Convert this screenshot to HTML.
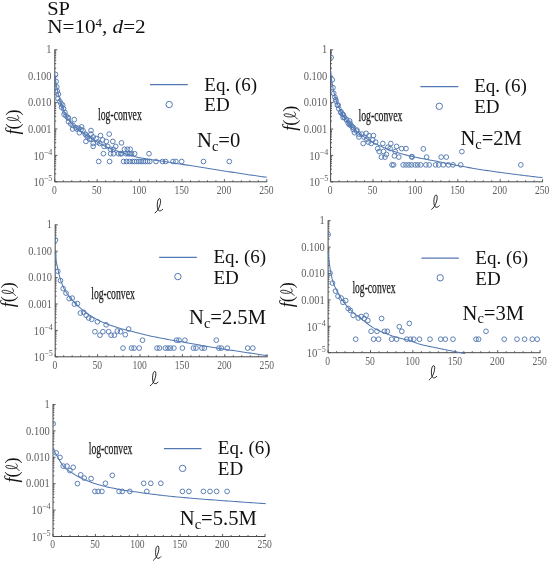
<!DOCTYPE html>
<html><head><meta charset="utf-8"><title>SP f(l) distributions</title>
<style>
html,body{margin:0;padding:0;background:#fff;}
body{width:551px;height:561px;overflow:hidden;font-family:"Liberation Serif",serif;}
svg{display:block;will-change:transform;}
text{font-family:"Liberation Serif",serif;}
.tk{font-size:13px;fill:#5e5e5e;}
.tks{font-size:9px;fill:#5e5e5e;}
.lg{font-size:19px;fill:#111;}
.nc{font-size:20.6px;fill:#111;}
.lc{font-size:16.5px;fill:#1a1a1a;stroke:#1a1a1a;stroke-width:0.25px;}
.yl{font-size:18px;fill:#111;}
.tt{font-size:19.6px;fill:#111;}
</style></head><body>
<svg width="551" height="561" viewBox="0 0 551 561">
<rect width="551" height="561" fill="#fff"/>
<text x="47.2" y="15.2" class="tt" textLength="22.8" lengthAdjust="spacingAndGlyphs">SP</text>
<text x="47.2" y="33.2" class="tt" textLength="98.5" lengthAdjust="spacingAndGlyphs">N=10<tspan dy="-6" font-size="12">4</tspan><tspan dy="6">, </tspan><tspan font-style="italic">d</tspan>=2</text>
<path d="M54.80,49.40 V181.80 H267.10" fill="none" stroke="#484848" stroke-width="1.0"/>
<path d="M54.80,181.80 h2.6 M54.80,173.85 h1.4 M54.80,169.20 h1.4 M54.80,165.91 h1.4 M54.80,163.35 h1.4 M54.80,161.26 h1.4 M54.80,159.49 h1.4 M54.80,157.96 h1.4 M54.80,156.61 h1.4 M54.80,155.40 h2.6 M54.80,147.45 h1.4 M54.80,142.80 h1.4 M54.80,139.51 h1.4 M54.80,136.95 h1.4 M54.80,134.86 h1.4 M54.80,133.09 h1.4 M54.80,131.56 h1.4 M54.80,130.21 h1.4 M54.80,129.00 h2.6 M54.80,121.05 h1.4 M54.80,116.40 h1.4 M54.80,113.11 h1.4 M54.80,110.55 h1.4 M54.80,108.46 h1.4 M54.80,106.69 h1.4 M54.80,105.16 h1.4 M54.80,103.81 h1.4 M54.80,102.60 h2.6 M54.80,94.65 h1.4 M54.80,90.00 h1.4 M54.80,86.71 h1.4 M54.80,84.15 h1.4 M54.80,82.06 h1.4 M54.80,80.29 h1.4 M54.80,78.76 h1.4 M54.80,77.41 h1.4 M54.80,76.20 h2.6 M54.80,68.25 h1.4 M54.80,63.60 h1.4 M54.80,60.31 h1.4 M54.80,57.75 h1.4 M54.80,55.66 h1.4 M54.80,53.89 h1.4 M54.80,52.36 h1.4 M54.80,51.01 h1.4 M54.80,49.80 h2.6 M54.80,181.80 v-2.6 M63.28,181.80 v-1.5 M71.76,181.80 v-1.5 M80.24,181.80 v-1.5 M88.72,181.80 v-1.5 M97.20,181.80 v-2.6 M105.68,181.80 v-1.5 M114.16,181.80 v-1.5 M122.64,181.80 v-1.5 M131.12,181.80 v-1.5 M139.60,181.80 v-2.6 M148.08,181.80 v-1.5 M156.56,181.80 v-1.5 M165.04,181.80 v-1.5 M173.52,181.80 v-1.5 M182.00,181.80 v-2.6 M190.48,181.80 v-1.5 M198.96,181.80 v-1.5 M207.44,181.80 v-1.5 M215.92,181.80 v-1.5 M224.40,181.80 v-2.6 M232.88,181.80 v-1.5 M241.36,181.80 v-1.5 M249.84,181.80 v-1.5 M258.32,181.80 v-1.5 M266.80,181.80 v-2.6" fill="none" stroke="#484848" stroke-width="0.9"/>
<text x="51.50" y="53.40" text-anchor="end" class="tk" textLength="5.2" lengthAdjust="spacingAndGlyphs">1</text>
<text x="51.50" y="79.80" text-anchor="end" class="tk" textLength="23.6" lengthAdjust="spacingAndGlyphs">0.100</text>
<text x="51.50" y="106.20" text-anchor="end" class="tk" textLength="23.6" lengthAdjust="spacingAndGlyphs">0.010</text>
<text x="51.50" y="132.60" text-anchor="end" class="tk" textLength="23.6" lengthAdjust="spacingAndGlyphs">0.001</text>
<text x="44.20" y="159.70" text-anchor="end" class="tk" textLength="10.8" lengthAdjust="spacingAndGlyphs">10</text>
<text x="52.40" y="154.70" text-anchor="end" class="tks" textLength="8.6" lengthAdjust="spacingAndGlyphs">−4</text>
<text x="44.20" y="186.10" text-anchor="end" class="tk" textLength="10.8" lengthAdjust="spacingAndGlyphs">10</text>
<text x="52.40" y="181.10" text-anchor="end" class="tks" textLength="8.6" lengthAdjust="spacingAndGlyphs">−5</text>
<text x="54.40" y="193.60" text-anchor="middle" class="tk" textLength="4.8" lengthAdjust="spacingAndGlyphs">0</text>
<text x="96.80" y="193.60" text-anchor="middle" class="tk" textLength="9.6" lengthAdjust="spacingAndGlyphs">50</text>
<text x="139.20" y="193.60" text-anchor="middle" class="tk" textLength="14.4" lengthAdjust="spacingAndGlyphs">100</text>
<text x="181.60" y="193.60" text-anchor="middle" class="tk" textLength="14.4" lengthAdjust="spacingAndGlyphs">150</text>
<text x="224.00" y="193.60" text-anchor="middle" class="tk" textLength="14.4" lengthAdjust="spacingAndGlyphs">200</text>
<text x="266.40" y="193.60" text-anchor="middle" class="tk" textLength="14.4" lengthAdjust="spacingAndGlyphs">250</text>
<path transform="translate(154.90,198.30) scale(1.0)" d="M0.2,14.6 C2.0,13.2 3.4,11.2 4.4,8.6 C5.6,5.4 6.2,2.2 5.2,0.6 C4.2,-0.6 2.8,1.6 2.5,4.6 C2.2,7.6 2.4,10.6 3.6,12.0 C4.8,13.2 6.6,12.6 7.8,11.0" fill="none" stroke="#111" stroke-width="0.9" stroke-linecap="round"/>
<g transform="translate(19.40,134.40) rotate(-90)"><text x="0" y="0" class="yl"><tspan font-style="italic">f</tspan>(</text><path transform="translate(11.60,-12.60) scale(0.95)" d="M0.2,14.6 C2.0,13.2 3.4,11.2 4.4,8.6 C5.6,5.4 6.2,2.2 5.2,0.6 C4.2,-0.6 2.8,1.6 2.5,4.6 C2.2,7.6 2.4,10.6 3.6,12.0 C4.8,13.2 6.6,12.6 7.8,11.0" fill="none" stroke="#111" stroke-width="0.9" stroke-linecap="round"/><text x="19.0" y="0" class="yl">)</text></g>
<path d="M54.80,76.00 L55.14,78.17 L55.47,80.25 L55.81,82.23 L56.15,84.11 L56.49,85.92 L56.82,87.68 L57.16,89.34 L57.50,90.89 L57.83,92.38 L58.17,93.80 L58.51,95.16 L58.84,96.44 L59.18,97.64 L59.52,98.78 L59.86,99.88 L60.19,100.93 L60.53,101.95 L60.87,102.93 L61.20,103.89 L61.54,104.84 L61.88,105.77 L62.22,106.70 L62.55,107.61 L62.89,108.51 L63.23,109.38 L63.56,110.24 L63.90,111.06 L64.24,111.85 L64.58,112.61 L64.91,113.32 L65.25,114.00 L65.59,114.65 L65.92,115.29 L66.26,115.91 L66.60,116.52 L66.93,117.10 L67.27,117.66 L67.61,118.21 L67.95,118.73 L68.28,119.23 L68.62,119.72 L68.96,120.18 L69.29,120.62 L69.63,121.05 L69.97,121.46 L70.31,121.87 L70.64,122.26 L70.98,122.64 L71.32,123.01 L71.65,123.38 L71.99,123.73 L72.33,124.08 L72.67,124.42 L73.00,124.75 L73.34,125.08 L73.68,125.40 L74.01,125.71 L74.35,126.02 L74.69,126.33 L75.02,126.63 L75.36,126.93 L75.70,127.23 L76.04,127.53 L76.37,127.83 L76.71,128.12 L77.05,128.40 L77.38,128.69 L77.72,128.96 L78.06,129.24 L78.40,129.51 L78.73,129.78 L79.07,130.04 L79.41,130.31 L79.74,130.56 L80.08,130.82 L80.42,131.07 L80.76,131.33 L81.09,131.58 L81.43,131.82 L81.77,132.07 L82.10,132.31 L82.44,132.55 L82.78,132.79 L83.11,133.03 L83.45,133.27 L83.79,133.50 L84.13,133.74 L84.46,133.97 L84.80,134.21 L86.33,135.25 L87.86,136.27 L89.39,137.27 L90.92,138.24 L92.45,139.19 L93.98,140.11 L95.51,141.02 L97.04,141.91 L98.56,142.78 L100.09,143.63 L101.62,144.47 L103.15,145.27 L104.68,146.02 L106.21,146.73 L107.74,147.41 L109.27,148.06 L110.80,148.69 L112.33,149.29 L113.86,149.88 L115.39,150.44 L116.92,150.99 L118.45,151.52 L119.98,152.03 L121.51,152.55 L123.04,153.06 L124.56,153.56 L126.09,154.05 L127.62,154.54 L129.15,155.00 L130.68,155.46 L132.21,155.89 L133.74,156.31 L135.27,156.71 L136.80,157.08 L138.33,157.43 L139.86,157.75 L141.39,158.05 L142.92,158.34 L144.45,158.61 L145.98,158.87 L147.51,159.11 L149.04,159.35 L150.56,159.58 L152.09,159.80 L153.62,160.02 L155.15,160.23 L156.68,160.44 L158.21,160.65 L159.74,160.87 L161.27,161.08 L162.80,161.31 L164.33,161.54 L165.86,161.77 L167.39,162.01 L168.92,162.25 L170.45,162.49 L171.98,162.73 L173.51,162.97 L175.04,163.21 L176.56,163.45 L178.09,163.69 L179.62,163.93 L181.15,164.17 L182.68,164.41 L184.21,164.64 L185.74,164.87 L187.27,165.11 L188.80,165.34 L190.33,165.57 L191.86,165.80 L193.39,166.03 L194.92,166.26 L196.45,166.49 L197.98,166.73 L199.51,166.96 L201.04,167.20 L202.56,167.43 L204.09,167.67 L205.62,167.92 L207.15,168.16 L208.68,168.41 L210.21,168.66 L211.74,168.92 L213.27,169.17 L214.80,169.43 L216.33,169.68 L217.86,169.94 L219.39,170.19 L220.92,170.44 L222.45,170.69 L223.98,170.93 L225.51,171.17 L227.04,171.41 L228.56,171.65 L230.09,171.89 L231.62,172.13 L233.15,172.36 L234.68,172.60 L236.21,172.83 L237.74,173.07 L239.27,173.30 L240.80,173.53 L242.33,173.76 L243.86,173.99 L245.39,174.22 L246.92,174.45 L248.45,174.67 L249.98,174.90 L251.51,175.12 L253.04,175.35 L254.56,175.57 L256.09,175.79 L257.62,176.01 L259.15,176.23 L260.68,176.44 L262.21,176.66 L263.74,176.88 L265.27,177.09 L266.80,177.30" fill="none" stroke="#5379B2" stroke-width="1.05" stroke-linejoin="round"/>
<clipPath id="cp729"><rect x="54.60" y="41.80" width="218.00" height="141.00"/></clipPath>
<g fill="none" stroke="#5379B2" stroke-width="0.95" clip-path="url(#cp729)"><circle cx="55.5" cy="74.5" r="2.35"/><circle cx="56.1" cy="81.5" r="2.35"/><circle cx="56.8" cy="86.9" r="2.35"/><circle cx="57.3" cy="91.2" r="2.35"/><circle cx="58.4" cy="94.1" r="2.35"/><circle cx="58.0" cy="98.5" r="2.35"/><circle cx="59.9" cy="101.4" r="2.35"/><circle cx="60.9" cy="103.5" r="2.35"/><circle cx="61.6" cy="107.2" r="2.35"/><circle cx="62.7" cy="105.1" r="2.35"/><circle cx="63.5" cy="108.7" r="2.35"/><circle cx="64.9" cy="112.3" r="2.35"/><circle cx="66.1" cy="116.0" r="2.35"/><circle cx="67.8" cy="117.4" r="2.35"/><circle cx="68.5" cy="121.8" r="2.35"/><circle cx="70.7" cy="123.9" r="2.35"/><circle cx="74.3" cy="119.6" r="2.35"/><circle cx="72.9" cy="125.4" r="2.35"/><circle cx="75.8" cy="127.6" r="2.35"/><circle cx="78.7" cy="128.3" r="2.35"/><circle cx="81.6" cy="126.9" r="2.35"/><circle cx="79.4" cy="132.7" r="2.35"/><circle cx="83.0" cy="130.5" r="2.35"/><circle cx="85.2" cy="134.1" r="2.35"/><circle cx="87.4" cy="137.0" r="2.35"/><circle cx="91.0" cy="130.5" r="2.35"/><circle cx="91.0" cy="134.1" r="2.35"/><circle cx="85.9" cy="141.4" r="2.35"/><circle cx="89.6" cy="139.2" r="2.35"/><circle cx="93.2" cy="137.0" r="2.35"/><circle cx="96.1" cy="138.5" r="2.35"/><circle cx="100.5" cy="135.6" r="2.35"/><circle cx="93.2" cy="143.5" r="2.35"/><circle cx="93.2" cy="146.4" r="2.35"/><circle cx="97.6" cy="142.1" r="2.35"/><circle cx="99.7" cy="143.5" r="2.35"/><circle cx="102.6" cy="139.9" r="2.35"/><circle cx="106.3" cy="141.4" r="2.35"/><circle cx="109.2" cy="134.1" r="2.35"/><circle cx="104.1" cy="146.4" r="2.35"/><circle cx="107.7" cy="146.4" r="2.35"/><circle cx="112.8" cy="141.4" r="2.35"/><circle cx="110.6" cy="149.3" r="2.35"/><circle cx="113.5" cy="149.3" r="2.35"/><circle cx="115.7" cy="146.4" r="2.35"/><circle cx="121.5" cy="142.9" r="2.35"/><circle cx="103.4" cy="153.7" r="2.35"/><circle cx="110.6" cy="153.7" r="2.35"/><circle cx="113.5" cy="153.7" r="2.35"/><circle cx="118.6" cy="153.7" r="2.35"/><circle cx="121.5" cy="153.7" r="2.35"/><circle cx="124.4" cy="149.3" r="2.35"/><circle cx="127.3" cy="149.3" r="2.35"/><circle cx="130.2" cy="149.3" r="2.35"/><circle cx="125.9" cy="153.7" r="2.35"/><circle cx="129.5" cy="153.7" r="2.35"/><circle cx="134.6" cy="153.7" r="2.35"/><circle cx="120.7" cy="153.7" r="2.35"/><circle cx="128.0" cy="153.7" r="2.35"/><circle cx="131.5" cy="153.7" r="2.35"/><circle cx="149.0" cy="153.7" r="2.35"/><circle cx="64.1" cy="114.4" r="2.35"/><circle cx="68.4" cy="118.1" r="2.35"/><circle cx="72.6" cy="129.0" r="2.35"/><circle cx="76.8" cy="129.0" r="2.35"/><circle cx="81.1" cy="129.7" r="2.35"/><circle cx="86.2" cy="135.1" r="2.35"/><circle cx="91.3" cy="139.2" r="2.35"/><circle cx="98.7" cy="161.5" r="2.35"/><circle cx="109.6" cy="161.5" r="2.35"/><circle cx="123.6" cy="161.5" r="2.35"/><circle cx="126.5" cy="161.5" r="2.35"/><circle cx="129.4" cy="161.5" r="2.35"/><circle cx="132.3" cy="161.5" r="2.35"/><circle cx="134.5" cy="161.5" r="2.35"/><circle cx="136.7" cy="161.5" r="2.35"/><circle cx="138.9" cy="161.5" r="2.35"/><circle cx="141.0" cy="161.5" r="2.35"/><circle cx="143.2" cy="161.5" r="2.35"/><circle cx="145.4" cy="161.5" r="2.35"/><circle cx="147.6" cy="161.5" r="2.35"/><circle cx="149.8" cy="161.5" r="2.35"/><circle cx="156.0" cy="161.5" r="2.35"/><circle cx="162.5" cy="161.5" r="2.35"/><circle cx="165.7" cy="161.5" r="2.35"/><circle cx="173.0" cy="161.5" r="2.35"/><circle cx="175.9" cy="161.5" r="2.35"/><circle cx="181.7" cy="161.5" r="2.35"/><circle cx="203.5" cy="161.5" r="2.35"/><circle cx="229.3" cy="161.5" r="2.35"/></g>
<path d="M150.0,84.6 H187.8" stroke="#5379B2" stroke-width="1.25"/>
<circle cx="169.2" cy="104.5" r="3.2" fill="none" stroke="#5379B2" stroke-width="1"/>
<text x="204.3" y="91.0" class="lg">Eq. (6)</text>
<text x="204.3" y="110.8" class="lg">ED</text>
<text x="197.0" y="146.9" class="nc">N<tspan dy="3.8" font-size="14.5">c</tspan><tspan dy="-3.8">=0</tspan></text>
<text x="98.0" y="120.4" class="lc" textLength="43.8" lengthAdjust="spacingAndGlyphs">log-convex</text>
<path d="M330.60,49.40 V181.80 H542.90" fill="none" stroke="#484848" stroke-width="1.0"/>
<path d="M330.60,181.80 h2.6 M330.60,173.85 h1.4 M330.60,169.20 h1.4 M330.60,165.91 h1.4 M330.60,163.35 h1.4 M330.60,161.26 h1.4 M330.60,159.49 h1.4 M330.60,157.96 h1.4 M330.60,156.61 h1.4 M330.60,155.40 h2.6 M330.60,147.45 h1.4 M330.60,142.80 h1.4 M330.60,139.51 h1.4 M330.60,136.95 h1.4 M330.60,134.86 h1.4 M330.60,133.09 h1.4 M330.60,131.56 h1.4 M330.60,130.21 h1.4 M330.60,129.00 h2.6 M330.60,121.05 h1.4 M330.60,116.40 h1.4 M330.60,113.11 h1.4 M330.60,110.55 h1.4 M330.60,108.46 h1.4 M330.60,106.69 h1.4 M330.60,105.16 h1.4 M330.60,103.81 h1.4 M330.60,102.60 h2.6 M330.60,94.65 h1.4 M330.60,90.00 h1.4 M330.60,86.71 h1.4 M330.60,84.15 h1.4 M330.60,82.06 h1.4 M330.60,80.29 h1.4 M330.60,78.76 h1.4 M330.60,77.41 h1.4 M330.60,76.20 h2.6 M330.60,68.25 h1.4 M330.60,63.60 h1.4 M330.60,60.31 h1.4 M330.60,57.75 h1.4 M330.60,55.66 h1.4 M330.60,53.89 h1.4 M330.60,52.36 h1.4 M330.60,51.01 h1.4 M330.60,49.80 h2.6 M330.60,181.80 v-2.6 M339.08,181.80 v-1.5 M347.56,181.80 v-1.5 M356.04,181.80 v-1.5 M364.52,181.80 v-1.5 M373.00,181.80 v-2.6 M381.48,181.80 v-1.5 M389.96,181.80 v-1.5 M398.44,181.80 v-1.5 M406.92,181.80 v-1.5 M415.40,181.80 v-2.6 M423.88,181.80 v-1.5 M432.36,181.80 v-1.5 M440.84,181.80 v-1.5 M449.32,181.80 v-1.5 M457.80,181.80 v-2.6 M466.28,181.80 v-1.5 M474.76,181.80 v-1.5 M483.24,181.80 v-1.5 M491.72,181.80 v-1.5 M500.20,181.80 v-2.6 M508.68,181.80 v-1.5 M517.16,181.80 v-1.5 M525.64,181.80 v-1.5 M534.12,181.80 v-1.5 M542.60,181.80 v-2.6" fill="none" stroke="#484848" stroke-width="0.9"/>
<text x="327.30" y="53.40" text-anchor="end" class="tk" textLength="5.2" lengthAdjust="spacingAndGlyphs">1</text>
<text x="327.30" y="79.80" text-anchor="end" class="tk" textLength="23.6" lengthAdjust="spacingAndGlyphs">0.100</text>
<text x="327.30" y="106.20" text-anchor="end" class="tk" textLength="23.6" lengthAdjust="spacingAndGlyphs">0.010</text>
<text x="327.30" y="132.60" text-anchor="end" class="tk" textLength="23.6" lengthAdjust="spacingAndGlyphs">0.001</text>
<text x="320.00" y="159.70" text-anchor="end" class="tk" textLength="10.8" lengthAdjust="spacingAndGlyphs">10</text>
<text x="328.20" y="154.70" text-anchor="end" class="tks" textLength="8.6" lengthAdjust="spacingAndGlyphs">−4</text>
<text x="320.00" y="186.10" text-anchor="end" class="tk" textLength="10.8" lengthAdjust="spacingAndGlyphs">10</text>
<text x="328.20" y="181.10" text-anchor="end" class="tks" textLength="8.6" lengthAdjust="spacingAndGlyphs">−5</text>
<text x="330.20" y="193.60" text-anchor="middle" class="tk" textLength="4.8" lengthAdjust="spacingAndGlyphs">0</text>
<text x="372.60" y="193.60" text-anchor="middle" class="tk" textLength="9.6" lengthAdjust="spacingAndGlyphs">50</text>
<text x="415.00" y="193.60" text-anchor="middle" class="tk" textLength="14.4" lengthAdjust="spacingAndGlyphs">100</text>
<text x="457.40" y="193.60" text-anchor="middle" class="tk" textLength="14.4" lengthAdjust="spacingAndGlyphs">150</text>
<text x="499.80" y="193.60" text-anchor="middle" class="tk" textLength="14.4" lengthAdjust="spacingAndGlyphs">200</text>
<text x="542.20" y="193.60" text-anchor="middle" class="tk" textLength="14.4" lengthAdjust="spacingAndGlyphs">250</text>
<path transform="translate(431.50,194.70) scale(1.0)" d="M0.2,14.6 C2.0,13.2 3.4,11.2 4.4,8.6 C5.6,5.4 6.2,2.2 5.2,0.6 C4.2,-0.6 2.8,1.6 2.5,4.6 C2.2,7.6 2.4,10.6 3.6,12.0 C4.8,13.2 6.6,12.6 7.8,11.0" fill="none" stroke="#111" stroke-width="0.9" stroke-linecap="round"/>
<g transform="translate(296.20,130.80) rotate(-90)"><text x="0" y="0" class="yl"><tspan font-style="italic">f</tspan>(</text><path transform="translate(11.60,-12.60) scale(0.95)" d="M0.2,14.6 C2.0,13.2 3.4,11.2 4.4,8.6 C5.6,5.4 6.2,2.2 5.2,0.6 C4.2,-0.6 2.8,1.6 2.5,4.6 C2.2,7.6 2.4,10.6 3.6,12.0 C4.8,13.2 6.6,12.6 7.8,11.0" fill="none" stroke="#111" stroke-width="0.9" stroke-linecap="round"/><text x="19.0" y="0" class="yl">)</text></g>
<path d="M330.60,70.00 L330.94,73.71 L331.27,76.94 L331.61,79.60 L331.95,81.85 L332.29,83.91 L332.62,85.91 L332.96,87.78 L333.30,89.46 L333.63,91.03 L333.97,92.50 L334.31,93.90 L334.64,95.21 L334.98,96.44 L335.32,97.60 L335.66,98.70 L335.99,99.75 L336.33,100.76 L336.67,101.73 L337.00,102.67 L337.34,103.58 L337.68,104.47 L338.02,105.34 L338.35,106.19 L338.69,107.01 L339.03,107.81 L339.36,108.59 L339.70,109.34 L340.04,110.06 L340.38,110.75 L340.71,111.41 L341.05,112.06 L341.39,112.69 L341.72,113.30 L342.06,113.90 L342.40,114.48 L342.73,115.04 L343.07,115.60 L343.41,116.14 L343.75,116.66 L344.08,117.17 L344.42,117.67 L344.76,118.16 L345.09,118.63 L345.43,119.09 L345.77,119.54 L346.11,119.98 L346.44,120.41 L346.78,120.83 L347.12,121.23 L347.45,121.64 L347.79,122.03 L348.13,122.42 L348.47,122.80 L348.80,123.18 L349.14,123.55 L349.48,123.92 L349.81,124.30 L350.15,124.66 L350.49,125.03 L350.82,125.40 L351.16,125.76 L351.50,126.12 L351.84,126.48 L352.17,126.84 L352.51,127.19 L352.85,127.54 L353.18,127.89 L353.52,128.23 L353.86,128.57 L354.20,128.90 L354.53,129.23 L354.87,129.56 L355.21,129.88 L355.54,130.19 L355.88,130.51 L356.22,130.81 L356.56,131.11 L356.89,131.41 L357.23,131.70 L357.57,131.98 L357.90,132.26 L358.24,132.54 L358.58,132.81 L358.91,133.09 L359.25,133.35 L359.59,133.62 L359.93,133.88 L360.26,134.14 L360.60,134.39 L362.13,135.51 L363.66,136.59 L365.19,137.63 L366.72,138.63 L368.25,139.61 L369.78,140.56 L371.31,141.47 L372.84,142.34 L374.36,143.17 L375.89,143.95 L377.42,144.70 L378.95,145.41 L380.48,146.09 L382.01,146.75 L383.54,147.40 L385.07,148.03 L386.60,148.66 L388.13,149.27 L389.66,149.88 L391.19,150.46 L392.72,151.02 L394.25,151.55 L395.78,152.05 L397.31,152.53 L398.84,153.00 L400.36,153.46 L401.89,153.90 L403.42,154.32 L404.95,154.74 L406.48,155.13 L408.01,155.52 L409.54,155.89 L411.07,156.25 L412.60,156.60 L414.13,156.93 L415.66,157.25 L417.19,157.57 L418.72,157.88 L420.25,158.18 L421.78,158.47 L423.31,158.76 L424.84,159.05 L426.36,159.34 L427.89,159.62 L429.42,159.91 L430.95,160.20 L432.48,160.49 L434.01,160.79 L435.54,161.09 L437.07,161.39 L438.60,161.70 L440.13,162.01 L441.66,162.33 L443.19,162.64 L444.72,162.95 L446.25,163.26 L447.78,163.58 L449.31,163.89 L450.84,164.20 L452.36,164.50 L453.89,164.81 L455.42,165.11 L456.95,165.40 L458.48,165.70 L460.01,165.98 L461.54,166.26 L463.07,166.54 L464.60,166.81 L466.13,167.09 L467.66,167.36 L469.19,167.63 L470.72,167.89 L472.25,168.15 L473.78,168.41 L475.31,168.67 L476.84,168.92 L478.36,169.18 L479.89,169.42 L481.42,169.67 L482.95,169.91 L484.48,170.15 L486.01,170.38 L487.54,170.61 L489.07,170.84 L490.60,171.06 L492.13,171.28 L493.66,171.50 L495.19,171.71 L496.72,171.93 L498.25,172.13 L499.78,172.34 L501.31,172.55 L502.84,172.75 L504.36,172.95 L505.89,173.15 L507.42,173.35 L508.95,173.55 L510.48,173.75 L512.01,173.95 L513.54,174.15 L515.07,174.34 L516.60,174.54 L518.13,174.73 L519.66,174.93 L521.19,175.12 L522.72,175.31 L524.25,175.50 L525.78,175.69 L527.31,175.88 L528.84,176.07 L530.36,176.25 L531.89,176.44 L533.42,176.62 L534.95,176.81 L536.48,176.99 L538.01,177.17 L539.54,177.35 L541.07,177.52 L542.60,177.70" fill="none" stroke="#5379B2" stroke-width="1.05" stroke-linejoin="round"/>
<clipPath id="cp3487"><rect x="330.40" y="41.80" width="218.00" height="141.00"/></clipPath>
<g fill="none" stroke="#5379B2" stroke-width="0.95" clip-path="url(#cp3487)"><circle cx="331.1" cy="57.5" r="2.35"/><circle cx="332.3" cy="79.8" r="2.35"/><circle cx="333.0" cy="87.7" r="2.35"/><circle cx="333.7" cy="93.3" r="2.35"/><circle cx="334.9" cy="97.2" r="2.35"/><circle cx="335.9" cy="101.1" r="2.35"/><circle cx="337.3" cy="105.2" r="2.35"/><circle cx="338.8" cy="108.8" r="2.35"/><circle cx="341.0" cy="111.7" r="2.35"/><circle cx="342.4" cy="114.2" r="2.35"/><circle cx="343.1" cy="117.5" r="2.35"/><circle cx="344.4" cy="117.4" r="2.35"/><circle cx="346.3" cy="119.2" r="2.35"/><circle cx="349.6" cy="120.9" r="2.35"/><circle cx="348.2" cy="123.3" r="2.35"/><circle cx="349.4" cy="124.7" r="2.35"/><circle cx="351.1" cy="125.5" r="2.35"/><circle cx="352.3" cy="126.9" r="2.35"/><circle cx="353.2" cy="129.5" r="2.35"/><circle cx="354.5" cy="132.7" r="2.35"/><circle cx="356.7" cy="131.2" r="2.35"/><circle cx="358.9" cy="134.1" r="2.35"/><circle cx="358.9" cy="137.0" r="2.35"/><circle cx="361.8" cy="134.1" r="2.35"/><circle cx="363.2" cy="143.5" r="2.35"/><circle cx="363.9" cy="137.0" r="2.35"/><circle cx="366.1" cy="133.4" r="2.35"/><circle cx="366.9" cy="139.2" r="2.35"/><circle cx="369.0" cy="135.6" r="2.35"/><circle cx="368.3" cy="142.1" r="2.35"/><circle cx="371.2" cy="143.5" r="2.35"/><circle cx="373.4" cy="135.6" r="2.35"/><circle cx="372.7" cy="139.9" r="2.35"/><circle cx="375.6" cy="142.1" r="2.35"/><circle cx="377.7" cy="148.6" r="2.35"/><circle cx="379.2" cy="151.5" r="2.35"/><circle cx="382.8" cy="143.5" r="2.35"/><circle cx="383.5" cy="151.5" r="2.35"/><circle cx="381.4" cy="157.1" r="2.35"/><circle cx="385.0" cy="157.1" r="2.35"/><circle cx="386.4" cy="154.4" r="2.35"/><circle cx="387.9" cy="147.2" r="2.35"/><circle cx="390.8" cy="143.5" r="2.35"/><circle cx="390.1" cy="148.6" r="2.35"/><circle cx="394.4" cy="155.9" r="2.35"/><circle cx="395.2" cy="151.5" r="2.35"/><circle cx="396.6" cy="146.4" r="2.35"/><circle cx="398.8" cy="157.1" r="2.35"/><circle cx="401.7" cy="148.6" r="2.35"/><circle cx="406.0" cy="148.6" r="2.35"/><circle cx="411.8" cy="156.6" r="2.35"/><circle cx="412.0" cy="157.1" r="2.35"/><circle cx="426.6" cy="157.1" r="2.35"/><circle cx="441.2" cy="157.1" r="2.35"/><circle cx="446.3" cy="157.1" r="2.35"/><circle cx="461.9" cy="151.6" r="2.35"/><circle cx="423.3" cy="148.9" r="2.35"/><circle cx="335.7" cy="99.5" r="2.35"/><circle cx="338.2" cy="105.1" r="2.35"/><circle cx="340.8" cy="112.7" r="2.35"/><circle cx="343.3" cy="114.7" r="2.35"/><circle cx="346.7" cy="120.2" r="2.35"/><circle cx="350.1" cy="123.3" r="2.35"/><circle cx="353.5" cy="127.7" r="2.35"/><circle cx="356.9" cy="130.1" r="2.35"/><circle cx="392.0" cy="164.9" r="2.35"/><circle cx="393.6" cy="164.9" r="2.35"/><circle cx="403.1" cy="164.9" r="2.35"/><circle cx="406.0" cy="164.9" r="2.35"/><circle cx="408.9" cy="164.9" r="2.35"/><circle cx="411.5" cy="164.9" r="2.35"/><circle cx="415.1" cy="164.9" r="2.35"/><circle cx="417.7" cy="164.9" r="2.35"/><circle cx="420.7" cy="164.9" r="2.35"/><circle cx="425.9" cy="164.9" r="2.35"/><circle cx="429.2" cy="164.9" r="2.35"/><circle cx="435.6" cy="164.9" r="2.35"/><circle cx="438.7" cy="164.9" r="2.35"/><circle cx="443.3" cy="164.9" r="2.35"/><circle cx="448.4" cy="164.9" r="2.35"/><circle cx="453.0" cy="164.9" r="2.35"/><circle cx="460.7" cy="164.9" r="2.35"/><circle cx="520.8" cy="164.9" r="2.35"/></g>
<path d="M420.4,86.7 H458.3" stroke="#5379B2" stroke-width="1.25"/>
<circle cx="439.3" cy="106.3" r="3.2" fill="none" stroke="#5379B2" stroke-width="1"/>
<text x="474.2" y="92.3" class="lg">Eq. (6)</text>
<text x="474.2" y="112.8" class="lg">ED</text>
<text x="460.4" y="145.3" class="nc">N<tspan dy="3.8" font-size="14.5">c</tspan><tspan dy="-3.8">=2M</tspan></text>
<text x="358.5" y="120.7" class="lc" textLength="44.0" lengthAdjust="spacingAndGlyphs">log-convex</text>
<path d="M55.20,224.40 V356.80 H267.50" fill="none" stroke="#484848" stroke-width="1.0"/>
<path d="M55.20,356.80 h2.6 M55.20,348.85 h1.4 M55.20,344.20 h1.4 M55.20,340.91 h1.4 M55.20,338.35 h1.4 M55.20,336.26 h1.4 M55.20,334.49 h1.4 M55.20,332.96 h1.4 M55.20,331.61 h1.4 M55.20,330.40 h2.6 M55.20,322.45 h1.4 M55.20,317.80 h1.4 M55.20,314.51 h1.4 M55.20,311.95 h1.4 M55.20,309.86 h1.4 M55.20,308.09 h1.4 M55.20,306.56 h1.4 M55.20,305.21 h1.4 M55.20,304.00 h2.6 M55.20,296.05 h1.4 M55.20,291.40 h1.4 M55.20,288.11 h1.4 M55.20,285.55 h1.4 M55.20,283.46 h1.4 M55.20,281.69 h1.4 M55.20,280.16 h1.4 M55.20,278.81 h1.4 M55.20,277.60 h2.6 M55.20,269.65 h1.4 M55.20,265.00 h1.4 M55.20,261.71 h1.4 M55.20,259.15 h1.4 M55.20,257.06 h1.4 M55.20,255.29 h1.4 M55.20,253.76 h1.4 M55.20,252.41 h1.4 M55.20,251.20 h2.6 M55.20,243.25 h1.4 M55.20,238.60 h1.4 M55.20,235.31 h1.4 M55.20,232.75 h1.4 M55.20,230.66 h1.4 M55.20,228.89 h1.4 M55.20,227.36 h1.4 M55.20,226.01 h1.4 M55.20,224.80 h2.6 M55.20,356.80 v-2.6 M63.68,356.80 v-1.5 M72.16,356.80 v-1.5 M80.64,356.80 v-1.5 M89.12,356.80 v-1.5 M97.60,356.80 v-2.6 M106.08,356.80 v-1.5 M114.56,356.80 v-1.5 M123.04,356.80 v-1.5 M131.52,356.80 v-1.5 M140.00,356.80 v-2.6 M148.48,356.80 v-1.5 M156.96,356.80 v-1.5 M165.44,356.80 v-1.5 M173.92,356.80 v-1.5 M182.40,356.80 v-2.6 M190.88,356.80 v-1.5 M199.36,356.80 v-1.5 M207.84,356.80 v-1.5 M216.32,356.80 v-1.5 M224.80,356.80 v-2.6 M233.28,356.80 v-1.5 M241.76,356.80 v-1.5 M250.24,356.80 v-1.5 M258.72,356.80 v-1.5 M267.20,356.80 v-2.6" fill="none" stroke="#484848" stroke-width="0.9"/>
<text x="51.90" y="228.40" text-anchor="end" class="tk" textLength="5.2" lengthAdjust="spacingAndGlyphs">1</text>
<text x="51.90" y="254.80" text-anchor="end" class="tk" textLength="23.6" lengthAdjust="spacingAndGlyphs">0.100</text>
<text x="51.90" y="281.20" text-anchor="end" class="tk" textLength="23.6" lengthAdjust="spacingAndGlyphs">0.010</text>
<text x="51.90" y="307.60" text-anchor="end" class="tk" textLength="23.6" lengthAdjust="spacingAndGlyphs">0.001</text>
<text x="44.60" y="334.70" text-anchor="end" class="tk" textLength="10.8" lengthAdjust="spacingAndGlyphs">10</text>
<text x="52.80" y="329.70" text-anchor="end" class="tks" textLength="8.6" lengthAdjust="spacingAndGlyphs">−4</text>
<text x="44.60" y="361.10" text-anchor="end" class="tk" textLength="10.8" lengthAdjust="spacingAndGlyphs">10</text>
<text x="52.80" y="356.10" text-anchor="end" class="tks" textLength="8.6" lengthAdjust="spacingAndGlyphs">−5</text>
<text x="54.80" y="368.60" text-anchor="middle" class="tk" textLength="4.8" lengthAdjust="spacingAndGlyphs">0</text>
<text x="97.20" y="368.60" text-anchor="middle" class="tk" textLength="9.6" lengthAdjust="spacingAndGlyphs">50</text>
<text x="139.60" y="368.60" text-anchor="middle" class="tk" textLength="14.4" lengthAdjust="spacingAndGlyphs">100</text>
<text x="182.00" y="368.60" text-anchor="middle" class="tk" textLength="14.4" lengthAdjust="spacingAndGlyphs">150</text>
<text x="224.40" y="368.60" text-anchor="middle" class="tk" textLength="14.4" lengthAdjust="spacingAndGlyphs">200</text>
<text x="266.80" y="368.60" text-anchor="middle" class="tk" textLength="14.4" lengthAdjust="spacingAndGlyphs">250</text>
<path transform="translate(150.20,371.10) scale(1.0)" d="M0.2,14.6 C2.0,13.2 3.4,11.2 4.4,8.6 C5.6,5.4 6.2,2.2 5.2,0.6 C4.2,-0.6 2.8,1.6 2.5,4.6 C2.2,7.6 2.4,10.6 3.6,12.0 C4.8,13.2 6.6,12.6 7.8,11.0" fill="none" stroke="#111" stroke-width="0.9" stroke-linecap="round"/>
<g transform="translate(14.20,307.30) rotate(-90)"><text x="0" y="0" class="yl"><tspan font-style="italic">f</tspan>(</text><path transform="translate(11.60,-12.60) scale(0.95)" d="M0.2,14.6 C2.0,13.2 3.4,11.2 4.4,8.6 C5.6,5.4 6.2,2.2 5.2,0.6 C4.2,-0.6 2.8,1.6 2.5,4.6 C2.2,7.6 2.4,10.6 3.6,12.0 C4.8,13.2 6.6,12.6 7.8,11.0" fill="none" stroke="#111" stroke-width="0.9" stroke-linecap="round"/><text x="19.0" y="0" class="yl">)</text></g>
<path d="M55.20,252.00 L55.54,255.74 L55.87,258.81 L56.21,261.05 L56.55,262.92 L56.89,264.57 L57.22,266.12 L57.56,267.68 L57.90,269.26 L58.23,270.78 L58.57,272.26 L58.91,273.68 L59.24,275.03 L59.58,276.31 L59.92,277.54 L60.26,278.73 L60.59,279.87 L60.93,280.96 L61.27,281.97 L61.60,282.91 L61.94,283.79 L62.28,284.64 L62.62,285.46 L62.95,286.25 L63.29,287.01 L63.63,287.73 L63.96,288.43 L64.30,289.10 L64.64,289.74 L64.98,290.34 L65.31,290.92 L65.65,291.48 L65.99,292.01 L66.32,292.53 L66.66,293.04 L67.00,293.53 L67.33,294.01 L67.67,294.48 L68.01,294.93 L68.35,295.38 L68.68,295.81 L69.02,296.24 L69.36,296.65 L69.69,297.06 L70.03,297.47 L70.37,297.86 L70.71,298.26 L71.04,298.64 L71.38,299.03 L71.72,299.41 L72.05,299.79 L72.39,300.18 L72.73,300.56 L73.07,300.93 L73.40,301.30 L73.74,301.67 L74.08,302.03 L74.41,302.39 L74.75,302.75 L75.09,303.09 L75.42,303.44 L75.76,303.78 L76.10,304.12 L76.44,304.45 L76.77,304.78 L77.11,305.11 L77.45,305.43 L77.78,305.75 L78.12,306.07 L78.46,306.38 L78.80,306.69 L79.13,307.00 L79.47,307.30 L79.81,307.61 L80.14,307.91 L80.48,308.20 L80.82,308.50 L81.16,308.79 L81.49,309.08 L81.83,309.37 L82.17,309.65 L82.50,309.93 L82.84,310.21 L83.18,310.49 L83.51,310.76 L83.85,311.03 L84.19,311.30 L84.53,311.56 L84.86,311.82 L85.20,312.08 L86.73,313.21 L88.26,314.27 L89.79,315.28 L91.32,316.24 L92.85,317.16 L94.38,318.04 L95.91,318.89 L97.44,319.71 L98.96,320.49 L100.49,321.23 L102.02,321.94 L103.55,322.61 L105.08,323.25 L106.61,323.86 L108.14,324.45 L109.67,325.02 L111.20,325.57 L112.73,326.10 L114.26,326.61 L115.79,327.10 L117.32,327.58 L118.85,328.04 L120.38,328.49 L121.91,328.92 L123.44,329.34 L124.96,329.73 L126.49,330.10 L128.02,330.47 L129.55,330.84 L131.08,331.22 L132.61,331.61 L134.14,332.01 L135.67,332.40 L137.20,332.80 L138.73,333.18 L140.26,333.57 L141.79,333.96 L143.32,334.35 L144.85,334.73 L146.38,335.11 L147.91,335.47 L149.44,335.82 L150.96,336.15 L152.49,336.48 L154.02,336.79 L155.55,337.09 L157.08,337.39 L158.61,337.69 L160.14,337.98 L161.67,338.27 L163.20,338.56 L164.73,338.84 L166.26,339.12 L167.79,339.40 L169.32,339.68 L170.85,339.95 L172.38,340.22 L173.91,340.49 L175.44,340.76 L176.96,341.03 L178.49,341.30 L180.02,341.56 L181.55,341.83 L183.08,342.10 L184.61,342.37 L186.14,342.64 L187.67,342.91 L189.20,343.19 L190.73,343.46 L192.26,343.74 L193.79,344.02 L195.32,344.30 L196.85,344.58 L198.38,344.86 L199.91,345.14 L201.44,345.42 L202.96,345.70 L204.49,345.98 L206.02,346.25 L207.55,346.52 L209.08,346.79 L210.61,347.05 L212.14,347.31 L213.67,347.56 L215.20,347.81 L216.73,348.06 L218.26,348.30 L219.79,348.54 L221.32,348.77 L222.85,349.01 L224.38,349.24 L225.91,349.47 L227.44,349.70 L228.96,349.92 L230.49,350.15 L232.02,350.37 L233.55,350.60 L235.08,350.82 L236.61,351.05 L238.14,351.28 L239.67,351.51 L241.20,351.74 L242.73,351.96 L244.26,352.19 L245.79,352.42 L247.32,352.65 L248.85,352.88 L250.38,353.11 L251.91,353.34 L253.44,353.56 L254.96,353.79 L256.49,354.02 L258.02,354.24 L259.55,354.47 L261.08,354.70 L262.61,354.92 L264.14,355.15 L265.67,355.37 L267.20,355.60" fill="none" stroke="#5379B2" stroke-width="1.05" stroke-linejoin="round"/>
<clipPath id="cp908"><rect x="55.00" y="216.80" width="218.00" height="141.00"/></clipPath>
<g fill="none" stroke="#5379B2" stroke-width="0.95" clip-path="url(#cp908)"><circle cx="55.5" cy="240.0" r="2.35"/><circle cx="57.8" cy="271.2" r="2.35"/><circle cx="60.5" cy="280.6" r="2.35"/><circle cx="63.2" cy="288.6" r="2.35"/><circle cx="66.0" cy="293.1" r="2.35"/><circle cx="69.2" cy="298.6" r="2.35"/><circle cx="72.2" cy="298.1" r="2.35"/><circle cx="74.4" cy="304.1" r="2.35"/><circle cx="77.4" cy="303.6" r="2.35"/><circle cx="80.4" cy="313.0" r="2.35"/><circle cx="83.7" cy="312.3" r="2.35"/><circle cx="86.2" cy="315.3" r="2.35"/><circle cx="88.7" cy="318.0" r="2.35"/><circle cx="91.7" cy="319.3" r="2.35"/><circle cx="97.4" cy="321.8" r="2.35"/><circle cx="106.1" cy="324.8" r="2.35"/><circle cx="94.9" cy="331.7" r="2.35"/><circle cx="99.9" cy="335.2" r="2.35"/><circle cx="102.9" cy="331.7" r="2.35"/><circle cx="108.6" cy="331.7" r="2.35"/><circle cx="111.1" cy="335.2" r="2.35"/><circle cx="114.4" cy="335.2" r="2.35"/><circle cx="117.3" cy="331.0" r="2.35"/><circle cx="120.6" cy="331.7" r="2.35"/><circle cx="125.3" cy="334.7" r="2.35"/><circle cx="128.6" cy="329.0" r="2.35"/><circle cx="123.0" cy="348.1" r="2.35"/><circle cx="131.5" cy="348.1" r="2.35"/><circle cx="134.1" cy="348.1" r="2.35"/><circle cx="139.2" cy="348.1" r="2.35"/><circle cx="157.0" cy="348.1" r="2.35"/><circle cx="159.5" cy="348.1" r="2.35"/><circle cx="165.4" cy="348.1" r="2.35"/><circle cx="168.0" cy="348.1" r="2.35"/><circle cx="170.5" cy="348.1" r="2.35"/><circle cx="173.9" cy="348.1" r="2.35"/><circle cx="182.4" cy="348.1" r="2.35"/><circle cx="193.4" cy="348.1" r="2.35"/><circle cx="196.0" cy="348.1" r="2.35"/><circle cx="201.9" cy="348.1" r="2.35"/><circle cx="204.4" cy="348.1" r="2.35"/><circle cx="218.9" cy="348.1" r="2.35"/><circle cx="221.4" cy="348.1" r="2.35"/><circle cx="227.3" cy="348.1" r="2.35"/><circle cx="247.7" cy="348.1" r="2.35"/><circle cx="252.8" cy="348.1" r="2.35"/><circle cx="142.5" cy="340.2" r="2.35"/><circle cx="176.5" cy="340.2" r="2.35"/><circle cx="179.0" cy="340.2" r="2.35"/><circle cx="184.9" cy="340.2" r="2.35"/><circle cx="216.3" cy="340.2" r="2.35"/></g>
<path d="M159.2,257.4 H196.8" stroke="#5379B2" stroke-width="1.25"/>
<circle cx="177.9" cy="276.6" r="3.2" fill="none" stroke="#5379B2" stroke-width="1"/>
<text x="213.4" y="262.6" class="lg">Eq. (6)</text>
<text x="213.4" y="283.7" class="lg">ED</text>
<text x="189.0" y="324.0" class="nc">N<tspan dy="3.8" font-size="14.5">c</tspan><tspan dy="-3.8">=2.5M</tspan></text>
<text x="91.2" y="298.6" class="lc" textLength="43.6" lengthAdjust="spacingAndGlyphs">log-convex</text>
<path d="M328.10,220.30 V352.70 H540.40" fill="none" stroke="#484848" stroke-width="1.0"/>
<path d="M328.10,352.70 h2.6 M328.10,344.75 h1.4 M328.10,340.10 h1.4 M328.10,336.81 h1.4 M328.10,334.25 h1.4 M328.10,332.16 h1.4 M328.10,330.39 h1.4 M328.10,328.86 h1.4 M328.10,327.51 h1.4 M328.10,326.30 h2.6 M328.10,318.35 h1.4 M328.10,313.70 h1.4 M328.10,310.41 h1.4 M328.10,307.85 h1.4 M328.10,305.76 h1.4 M328.10,303.99 h1.4 M328.10,302.46 h1.4 M328.10,301.11 h1.4 M328.10,299.90 h2.6 M328.10,291.95 h1.4 M328.10,287.30 h1.4 M328.10,284.01 h1.4 M328.10,281.45 h1.4 M328.10,279.36 h1.4 M328.10,277.59 h1.4 M328.10,276.06 h1.4 M328.10,274.71 h1.4 M328.10,273.50 h2.6 M328.10,265.55 h1.4 M328.10,260.90 h1.4 M328.10,257.61 h1.4 M328.10,255.05 h1.4 M328.10,252.96 h1.4 M328.10,251.19 h1.4 M328.10,249.66 h1.4 M328.10,248.31 h1.4 M328.10,247.10 h2.6 M328.10,239.15 h1.4 M328.10,234.50 h1.4 M328.10,231.21 h1.4 M328.10,228.65 h1.4 M328.10,226.56 h1.4 M328.10,224.79 h1.4 M328.10,223.26 h1.4 M328.10,221.91 h1.4 M328.10,220.70 h2.6 M328.10,352.70 v-2.6 M336.58,352.70 v-1.5 M345.06,352.70 v-1.5 M353.54,352.70 v-1.5 M362.02,352.70 v-1.5 M370.50,352.70 v-2.6 M378.98,352.70 v-1.5 M387.46,352.70 v-1.5 M395.94,352.70 v-1.5 M404.42,352.70 v-1.5 M412.90,352.70 v-2.6 M421.38,352.70 v-1.5 M429.86,352.70 v-1.5 M438.34,352.70 v-1.5 M446.82,352.70 v-1.5 M455.30,352.70 v-2.6 M463.78,352.70 v-1.5 M472.26,352.70 v-1.5 M480.74,352.70 v-1.5 M489.22,352.70 v-1.5 M497.70,352.70 v-2.6 M506.18,352.70 v-1.5 M514.66,352.70 v-1.5 M523.14,352.70 v-1.5 M531.62,352.70 v-1.5 M540.10,352.70 v-2.6" fill="none" stroke="#484848" stroke-width="0.9"/>
<text x="324.80" y="224.30" text-anchor="end" class="tk" textLength="5.2" lengthAdjust="spacingAndGlyphs">1</text>
<text x="324.80" y="250.70" text-anchor="end" class="tk" textLength="23.6" lengthAdjust="spacingAndGlyphs">0.100</text>
<text x="324.80" y="277.10" text-anchor="end" class="tk" textLength="23.6" lengthAdjust="spacingAndGlyphs">0.010</text>
<text x="324.80" y="303.50" text-anchor="end" class="tk" textLength="23.6" lengthAdjust="spacingAndGlyphs">0.001</text>
<text x="317.50" y="330.60" text-anchor="end" class="tk" textLength="10.8" lengthAdjust="spacingAndGlyphs">10</text>
<text x="325.70" y="325.60" text-anchor="end" class="tks" textLength="8.6" lengthAdjust="spacingAndGlyphs">−4</text>
<text x="317.50" y="357.00" text-anchor="end" class="tk" textLength="10.8" lengthAdjust="spacingAndGlyphs">10</text>
<text x="325.70" y="352.00" text-anchor="end" class="tks" textLength="8.6" lengthAdjust="spacingAndGlyphs">−5</text>
<text x="327.70" y="364.50" text-anchor="middle" class="tk" textLength="4.8" lengthAdjust="spacingAndGlyphs">0</text>
<text x="370.10" y="364.50" text-anchor="middle" class="tk" textLength="9.6" lengthAdjust="spacingAndGlyphs">50</text>
<text x="412.50" y="364.50" text-anchor="middle" class="tk" textLength="14.4" lengthAdjust="spacingAndGlyphs">100</text>
<text x="454.90" y="364.50" text-anchor="middle" class="tk" textLength="14.4" lengthAdjust="spacingAndGlyphs">150</text>
<text x="497.30" y="364.50" text-anchor="middle" class="tk" textLength="14.4" lengthAdjust="spacingAndGlyphs">200</text>
<text x="539.70" y="364.50" text-anchor="middle" class="tk" textLength="14.4" lengthAdjust="spacingAndGlyphs">250</text>
<path transform="translate(429.00,365.30) scale(1.0)" d="M0.2,14.6 C2.0,13.2 3.4,11.2 4.4,8.6 C5.6,5.4 6.2,2.2 5.2,0.6 C4.2,-0.6 2.8,1.6 2.5,4.6 C2.2,7.6 2.4,10.6 3.6,12.0 C4.8,13.2 6.6,12.6 7.8,11.0" fill="none" stroke="#111" stroke-width="0.9" stroke-linecap="round"/>
<g transform="translate(292.80,307.20) rotate(-90)"><text x="0" y="0" class="yl"><tspan font-style="italic">f</tspan>(</text><path transform="translate(11.60,-12.60) scale(0.95)" d="M0.2,14.6 C2.0,13.2 3.4,11.2 4.4,8.6 C5.6,5.4 6.2,2.2 5.2,0.6 C4.2,-0.6 2.8,1.6 2.5,4.6 C2.2,7.6 2.4,10.6 3.6,12.0 C4.8,13.2 6.6,12.6 7.8,11.0" fill="none" stroke="#111" stroke-width="0.9" stroke-linecap="round"/><text x="19.0" y="0" class="yl">)</text></g>
<path d="M328.20,251.00 L328.54,255.21 L328.87,258.75 L329.21,261.86 L329.55,264.61 L329.89,267.05 L330.22,269.26 L330.56,271.24 L330.90,273.02 L331.23,274.69 L331.57,276.28 L331.91,277.76 L332.24,279.14 L332.58,280.41 L332.92,281.56 L333.26,282.61 L333.59,283.58 L333.93,284.47 L334.27,285.32 L334.60,286.12 L334.94,286.89 L335.28,287.64 L335.62,288.35 L335.95,289.02 L336.29,289.68 L336.63,290.32 L336.96,290.96 L337.30,291.60 L337.64,292.25 L337.98,292.90 L338.31,293.55 L338.65,294.20 L338.99,294.84 L339.32,295.46 L339.66,296.07 L340.00,296.66 L340.33,297.23 L340.67,297.78 L341.01,298.31 L341.35,298.83 L341.68,299.34 L342.02,299.84 L342.36,300.33 L342.69,300.80 L343.03,301.27 L343.37,301.73 L343.71,302.18 L344.04,302.62 L344.38,303.05 L344.72,303.47 L345.05,303.89 L345.39,304.30 L345.73,304.71 L346.07,305.11 L346.40,305.51 L346.74,305.91 L347.08,306.29 L347.41,306.68 L347.75,307.06 L348.09,307.43 L348.42,307.80 L348.76,308.16 L349.10,308.52 L349.44,308.87 L349.77,309.22 L350.11,309.56 L350.45,309.90 L350.78,310.23 L351.12,310.56 L351.46,310.88 L351.80,311.20 L352.13,311.51 L352.47,311.81 L352.81,312.10 L353.14,312.39 L353.48,312.68 L353.82,312.96 L354.16,313.23 L354.49,313.50 L354.83,313.77 L355.17,314.03 L355.50,314.30 L355.84,314.56 L356.18,314.81 L356.51,315.07 L356.85,315.33 L357.19,315.59 L357.53,315.85 L357.86,316.11 L358.20,316.37 L359.10,317.08 L359.99,317.80 L360.89,318.53 L361.79,319.25 L362.69,319.98 L363.58,320.70 L364.48,321.40 L365.38,322.10 L366.28,322.78 L367.17,323.46 L368.07,324.14 L368.97,324.81 L369.87,325.48 L370.76,326.12 L371.66,326.74 L372.56,327.33 L373.46,327.88 L374.35,328.39 L375.25,328.87 L376.15,329.33 L377.05,329.78 L377.94,330.21 L378.84,330.62 L379.74,331.03 L380.64,331.43 L381.53,331.82 L382.43,332.20 L383.33,332.57 L384.23,332.93 L385.12,333.28 L386.02,333.62 L386.92,333.96 L387.82,334.29 L388.71,334.63 L389.61,334.96 L390.51,335.29 L391.41,335.61 L392.30,335.93 L393.20,336.23 L394.10,336.53 L395.00,336.81 L395.89,337.07 L396.79,337.32 L397.69,337.56 L398.59,337.79 L399.48,338.02 L400.38,338.24 L401.28,338.47 L402.18,338.69 L403.07,338.92 L403.97,339.15 L404.87,339.37 L405.77,339.58 L406.66,339.80 L407.56,340.03 L408.46,340.27 L409.36,340.51 L410.25,340.78 L411.15,341.07 L412.05,341.38 L412.95,341.71 L413.84,342.06 L414.74,342.41 L415.64,342.76 L416.54,343.10 L417.43,343.44 L418.33,343.75 L419.23,344.03 L420.13,344.29 L421.02,344.53 L421.92,344.76 L422.82,344.99 L423.72,345.20 L424.61,345.41 L425.51,345.61 L426.41,345.81 L427.31,346.00 L428.20,346.19 L429.10,346.37 L430.00,346.56 L430.90,346.74 L431.79,346.92 L432.69,347.10 L433.59,347.28 L434.49,347.47 L435.38,347.65 L436.28,347.84 L437.18,348.03 L438.08,348.22 L438.97,348.40 L439.87,348.59 L440.77,348.77 L441.67,348.95 L442.56,349.13 L443.46,349.31 L444.36,349.49 L445.26,349.67 L446.15,349.85 L447.05,350.03 L447.95,350.21 L448.85,350.39 L449.74,350.57 L450.64,350.75 L451.54,350.93 L452.44,351.11 L453.33,351.29 L454.23,351.47 L455.13,351.65 L456.03,351.83 L456.92,352.00 L457.82,352.18 L458.72,352.36 L459.62,352.54 L460.51,352.72 L461.41,352.89 L462.31,353.07 L463.21,353.25 L464.10,353.42 L465.00,353.60" fill="none" stroke="#5379B2" stroke-width="1.05" stroke-linejoin="round"/>
<clipPath id="cp3633"><rect x="327.90" y="212.70" width="218.00" height="141.00"/></clipPath>
<g fill="none" stroke="#5379B2" stroke-width="0.95" clip-path="url(#cp3633)"><circle cx="328.2" cy="234.5" r="2.35"/><circle cx="330.0" cy="273.1" r="2.35"/><circle cx="332.5" cy="283.1" r="2.35"/><circle cx="335.5" cy="291.1" r="2.35"/><circle cx="338.0" cy="296.1" r="2.35"/><circle cx="341.2" cy="298.1" r="2.35"/><circle cx="342.9" cy="302.3" r="2.35"/><circle cx="345.7" cy="300.6" r="2.35"/><circle cx="348.2" cy="308.5" r="2.35"/><circle cx="350.4" cy="310.5" r="2.35"/><circle cx="353.2" cy="315.3" r="2.35"/><circle cx="358.2" cy="318.0" r="2.35"/><circle cx="361.2" cy="316.5" r="2.35"/><circle cx="364.2" cy="318.5" r="2.35"/><circle cx="366.1" cy="315.3" r="2.35"/><circle cx="367.9" cy="320.5" r="2.35"/><circle cx="381.6" cy="318.5" r="2.35"/><circle cx="371.1" cy="331.3" r="2.35"/><circle cx="376.9" cy="331.3" r="2.35"/><circle cx="384.4" cy="331.3" r="2.35"/><circle cx="387.3" cy="331.3" r="2.35"/><circle cx="399.3" cy="326.7" r="2.35"/><circle cx="401.8" cy="331.3" r="2.35"/><circle cx="409.3" cy="323.4" r="2.35"/><circle cx="486.0" cy="331.3" r="2.35"/><circle cx="355.7" cy="339.2" r="2.35"/><circle cx="373.6" cy="339.2" r="2.35"/><circle cx="378.6" cy="339.2" r="2.35"/><circle cx="391.6" cy="339.2" r="2.35"/><circle cx="396.6" cy="339.2" r="2.35"/><circle cx="406.8" cy="339.2" r="2.35"/><circle cx="410.4" cy="339.2" r="2.35"/><circle cx="413.8" cy="339.2" r="2.35"/><circle cx="419.5" cy="339.2" r="2.35"/><circle cx="430.0" cy="339.2" r="2.35"/><circle cx="440.7" cy="339.2" r="2.35"/><circle cx="445.3" cy="339.2" r="2.35"/><circle cx="453.0" cy="339.2" r="2.35"/><circle cx="476.0" cy="339.2" r="2.35"/><circle cx="478.6" cy="339.2" r="2.35"/><circle cx="504.2" cy="339.2" r="2.35"/><circle cx="517.0" cy="339.2" r="2.35"/><circle cx="524.6" cy="339.2" r="2.35"/><circle cx="532.3" cy="339.2" r="2.35"/><circle cx="537.2" cy="339.2" r="2.35"/></g>
<path d="M421.5,258.0 H458.8" stroke="#5379B2" stroke-width="1.25"/>
<circle cx="440.2" cy="277.8" r="3.2" fill="none" stroke="#5379B2" stroke-width="1"/>
<text x="475.3" y="263.8" class="lg">Eq. (6)</text>
<text x="475.3" y="284.7" class="lg">ED</text>
<text x="462.5" y="319.6" class="nc">N<tspan dy="3.8" font-size="14.5">c</tspan><tspan dy="-3.8">=3M</tspan></text>
<text x="352.4" y="293.0" class="lc" textLength="43.2" lengthAdjust="spacingAndGlyphs">log-convex</text>
<path d="M53.00,404.10 V536.50 H265.30" fill="none" stroke="#484848" stroke-width="1.0"/>
<path d="M53.00,536.50 h2.6 M53.00,528.55 h1.4 M53.00,523.90 h1.4 M53.00,520.61 h1.4 M53.00,518.05 h1.4 M53.00,515.96 h1.4 M53.00,514.19 h1.4 M53.00,512.66 h1.4 M53.00,511.31 h1.4 M53.00,510.10 h2.6 M53.00,502.15 h1.4 M53.00,497.50 h1.4 M53.00,494.21 h1.4 M53.00,491.65 h1.4 M53.00,489.56 h1.4 M53.00,487.79 h1.4 M53.00,486.26 h1.4 M53.00,484.91 h1.4 M53.00,483.70 h2.6 M53.00,475.75 h1.4 M53.00,471.10 h1.4 M53.00,467.81 h1.4 M53.00,465.25 h1.4 M53.00,463.16 h1.4 M53.00,461.39 h1.4 M53.00,459.86 h1.4 M53.00,458.51 h1.4 M53.00,457.30 h2.6 M53.00,449.35 h1.4 M53.00,444.70 h1.4 M53.00,441.41 h1.4 M53.00,438.85 h1.4 M53.00,436.76 h1.4 M53.00,434.99 h1.4 M53.00,433.46 h1.4 M53.00,432.11 h1.4 M53.00,430.90 h2.6 M53.00,422.95 h1.4 M53.00,418.30 h1.4 M53.00,415.01 h1.4 M53.00,412.45 h1.4 M53.00,410.36 h1.4 M53.00,408.59 h1.4 M53.00,407.06 h1.4 M53.00,405.71 h1.4 M53.00,404.50 h2.6 M53.00,536.50 v-2.6 M61.48,536.50 v-1.5 M69.96,536.50 v-1.5 M78.44,536.50 v-1.5 M86.92,536.50 v-1.5 M95.40,536.50 v-2.6 M103.88,536.50 v-1.5 M112.36,536.50 v-1.5 M120.84,536.50 v-1.5 M129.32,536.50 v-1.5 M137.80,536.50 v-2.6 M146.28,536.50 v-1.5 M154.76,536.50 v-1.5 M163.24,536.50 v-1.5 M171.72,536.50 v-1.5 M180.20,536.50 v-2.6 M188.68,536.50 v-1.5 M197.16,536.50 v-1.5 M205.64,536.50 v-1.5 M214.12,536.50 v-1.5 M222.60,536.50 v-2.6 M231.08,536.50 v-1.5 M239.56,536.50 v-1.5 M248.04,536.50 v-1.5 M256.52,536.50 v-1.5 M265.00,536.50 v-2.6" fill="none" stroke="#484848" stroke-width="0.9"/>
<text x="49.70" y="408.10" text-anchor="end" class="tk" textLength="5.2" lengthAdjust="spacingAndGlyphs">1</text>
<text x="49.70" y="434.50" text-anchor="end" class="tk" textLength="23.6" lengthAdjust="spacingAndGlyphs">0.100</text>
<text x="49.70" y="460.90" text-anchor="end" class="tk" textLength="23.6" lengthAdjust="spacingAndGlyphs">0.010</text>
<text x="49.70" y="487.30" text-anchor="end" class="tk" textLength="23.6" lengthAdjust="spacingAndGlyphs">0.001</text>
<text x="42.40" y="514.40" text-anchor="end" class="tk" textLength="10.8" lengthAdjust="spacingAndGlyphs">10</text>
<text x="50.60" y="509.40" text-anchor="end" class="tks" textLength="8.6" lengthAdjust="spacingAndGlyphs">−4</text>
<text x="42.40" y="540.80" text-anchor="end" class="tk" textLength="10.8" lengthAdjust="spacingAndGlyphs">10</text>
<text x="50.60" y="535.80" text-anchor="end" class="tks" textLength="8.6" lengthAdjust="spacingAndGlyphs">−5</text>
<text x="52.60" y="548.30" text-anchor="middle" class="tk" textLength="4.8" lengthAdjust="spacingAndGlyphs">0</text>
<text x="95.00" y="548.30" text-anchor="middle" class="tk" textLength="9.6" lengthAdjust="spacingAndGlyphs">50</text>
<text x="137.40" y="548.30" text-anchor="middle" class="tk" textLength="14.4" lengthAdjust="spacingAndGlyphs">100</text>
<text x="179.80" y="548.30" text-anchor="middle" class="tk" textLength="14.4" lengthAdjust="spacingAndGlyphs">150</text>
<text x="222.20" y="548.30" text-anchor="middle" class="tk" textLength="14.4" lengthAdjust="spacingAndGlyphs">200</text>
<text x="264.60" y="548.30" text-anchor="middle" class="tk" textLength="14.4" lengthAdjust="spacingAndGlyphs">250</text>
<path transform="translate(153.20,545.70) scale(1.0)" d="M0.2,14.6 C2.0,13.2 3.4,11.2 4.4,8.6 C5.6,5.4 6.2,2.2 5.2,0.6 C4.2,-0.6 2.8,1.6 2.5,4.6 C2.2,7.6 2.4,10.6 3.6,12.0 C4.8,13.2 6.6,12.6 7.8,11.0" fill="none" stroke="#111" stroke-width="0.9" stroke-linecap="round"/>
<g transform="translate(18.00,482.50) rotate(-90)"><text x="0" y="0" class="yl"><tspan font-style="italic">f</tspan>(</text><path transform="translate(11.60,-12.60) scale(0.95)" d="M0.2,14.6 C2.0,13.2 3.4,11.2 4.4,8.6 C5.6,5.4 6.2,2.2 5.2,0.6 C4.2,-0.6 2.8,1.6 2.5,4.6 C2.2,7.6 2.4,10.6 3.6,12.0 C4.8,13.2 6.6,12.6 7.8,11.0" fill="none" stroke="#111" stroke-width="0.9" stroke-linecap="round"/><text x="19.0" y="0" class="yl">)</text></g>
<path d="M53.20,447.50 L53.54,448.60 L53.87,449.63 L54.21,450.53 L54.55,451.31 L54.89,452.02 L55.22,452.68 L55.56,453.30 L55.90,453.91 L56.23,454.51 L56.57,455.13 L56.91,455.75 L57.24,456.36 L57.58,456.96 L57.92,457.55 L58.26,458.14 L58.59,458.72 L58.93,459.29 L59.27,459.87 L59.60,460.44 L59.94,461.01 L60.28,461.57 L60.62,462.12 L60.95,462.66 L61.29,463.18 L61.63,463.69 L61.96,464.20 L62.30,464.71 L62.64,465.22 L62.98,465.71 L63.31,466.19 L63.65,466.63 L63.99,467.05 L64.32,467.42 L64.66,467.75 L65.00,468.07 L65.33,468.36 L65.67,468.65 L66.01,468.92 L66.35,469.19 L66.68,469.44 L67.02,469.68 L67.36,469.92 L67.69,470.15 L68.03,470.37 L68.37,470.59 L68.71,470.80 L69.04,471.01 L69.38,471.21 L69.72,471.42 L70.05,471.62 L70.39,471.83 L70.73,472.03 L71.07,472.24 L71.40,472.45 L71.74,472.66 L72.08,472.88 L72.41,473.09 L72.75,473.31 L73.09,473.53 L73.42,473.74 L73.76,473.95 L74.10,474.16 L74.44,474.37 L74.77,474.58 L75.11,474.79 L75.45,474.99 L75.78,475.20 L76.12,475.40 L76.46,475.60 L76.80,475.79 L77.13,475.99 L77.47,476.18 L77.81,476.36 L78.14,476.55 L78.48,476.73 L78.82,476.91 L79.16,477.08 L79.49,477.25 L79.83,477.42 L80.17,477.58 L80.50,477.75 L80.84,477.91 L81.18,478.07 L81.51,478.22 L81.85,478.38 L82.19,478.53 L82.53,478.68 L82.86,478.83 L83.20,478.98 L84.73,479.64 L86.27,480.29 L87.80,480.92 L89.34,481.55 L90.87,482.15 L92.41,482.72 L93.94,483.25 L95.48,483.74 L97.01,484.21 L98.54,484.66 L100.08,485.10 L101.61,485.53 L103.15,485.95 L104.68,486.36 L106.22,486.76 L107.75,487.12 L109.29,487.45 L110.82,487.76 L112.35,488.04 L113.89,488.33 L115.42,488.62 L116.96,488.95 L118.49,489.28 L120.03,489.61 L121.56,489.91 L123.10,490.18 L124.63,490.42 L126.16,490.64 L127.70,490.85 L129.23,491.06 L130.77,491.25 L132.30,491.45 L133.84,491.65 L135.37,491.85 L136.91,492.06 L138.44,492.27 L139.97,492.48 L141.51,492.70 L143.04,492.91 L144.58,493.13 L146.11,493.34 L147.65,493.55 L149.18,493.76 L150.72,493.97 L152.25,494.18 L153.78,494.38 L155.32,494.58 L156.85,494.77 L158.39,494.96 L159.92,495.14 L161.46,495.32 L162.99,495.49 L164.53,495.66 L166.06,495.82 L167.59,495.99 L169.13,496.15 L170.66,496.30 L172.20,496.46 L173.73,496.61 L175.27,496.76 L176.80,496.91 L178.34,497.06 L179.87,497.20 L181.41,497.34 L182.94,497.48 L184.47,497.62 L186.01,497.76 L187.54,497.89 L189.08,498.03 L190.61,498.16 L192.15,498.29 L193.68,498.42 L195.22,498.55 L196.75,498.67 L198.28,498.80 L199.82,498.92 L201.35,499.04 L202.89,499.16 L204.42,499.28 L205.96,499.40 L207.49,499.51 L209.03,499.63 L210.56,499.75 L212.09,499.86 L213.63,499.98 L215.16,500.10 L216.70,500.21 L218.23,500.32 L219.77,500.44 L221.30,500.55 L222.84,500.66 L224.37,500.77 L225.90,500.88 L227.44,500.99 L228.97,501.10 L230.51,501.21 L232.04,501.32 L233.58,501.42 L235.11,501.53 L236.65,501.64 L238.18,501.75 L239.71,501.86 L241.25,501.97 L242.78,502.08 L244.32,502.19 L245.85,502.29 L247.39,502.40 L248.92,502.51 L250.46,502.62 L251.99,502.73 L253.52,502.84 L255.06,502.95 L256.59,503.05 L258.13,503.16 L259.66,503.27 L261.20,503.38 L262.73,503.49 L264.27,503.59 L265.80,503.70" fill="none" stroke="#5379B2" stroke-width="1.05" stroke-linejoin="round"/>
<clipPath id="cp1066"><rect x="52.80" y="396.50" width="218.00" height="141.00"/></clipPath>
<g fill="none" stroke="#5379B2" stroke-width="0.95" clip-path="url(#cp1066)"><circle cx="53.2" cy="423.7" r="2.35"/><circle cx="56.2" cy="452.9" r="2.35"/><circle cx="60.0" cy="457.4" r="2.35"/><circle cx="63.2" cy="466.1" r="2.35"/><circle cx="67.0" cy="466.1" r="2.35"/><circle cx="69.9" cy="470.6" r="2.35"/><circle cx="73.2" cy="467.3" r="2.35"/><circle cx="77.4" cy="483.6" r="2.35"/><circle cx="80.7" cy="474.8" r="2.35"/><circle cx="84.2" cy="478.1" r="2.35"/><circle cx="91.1" cy="478.6" r="2.35"/><circle cx="94.9" cy="491.4" r="2.35"/><circle cx="98.1" cy="491.4" r="2.35"/><circle cx="101.9" cy="491.4" r="2.35"/><circle cx="105.4" cy="483.3" r="2.35"/><circle cx="112.3" cy="475.3" r="2.35"/><circle cx="119.1" cy="491.4" r="2.35"/><circle cx="122.3" cy="491.4" r="2.35"/><circle cx="129.8" cy="491.4" r="2.35"/><circle cx="143.7" cy="483.3" r="2.35"/><circle cx="150.8" cy="483.3" r="2.35"/><circle cx="160.8" cy="483.3" r="2.35"/><circle cx="146.8" cy="491.4" r="2.35"/><circle cx="182.4" cy="491.4" r="2.35"/><circle cx="188.9" cy="491.4" r="2.35"/><circle cx="203.4" cy="491.4" r="2.35"/><circle cx="210.0" cy="491.4" r="2.35"/><circle cx="216.6" cy="491.4" r="2.35"/><circle cx="227.1" cy="491.4" r="2.35"/></g>
<path d="M163.9,448.6 H201.5" stroke="#5379B2" stroke-width="1.25"/>
<circle cx="182.6" cy="468.4" r="3.2" fill="none" stroke="#5379B2" stroke-width="1"/>
<text x="217.8" y="453.7" class="lg">Eq. (6)</text>
<text x="217.8" y="474.9" class="lg">ED</text>
<text x="179.8" y="525.2" class="nc">N<tspan dy="3.8" font-size="14.5">c</tspan><tspan dy="-3.8">=5.5M</tspan></text>
<text x="88.7" y="453.6" class="lc" textLength="43.6" lengthAdjust="spacingAndGlyphs">log-convex</text>
</svg>
</body></html>
